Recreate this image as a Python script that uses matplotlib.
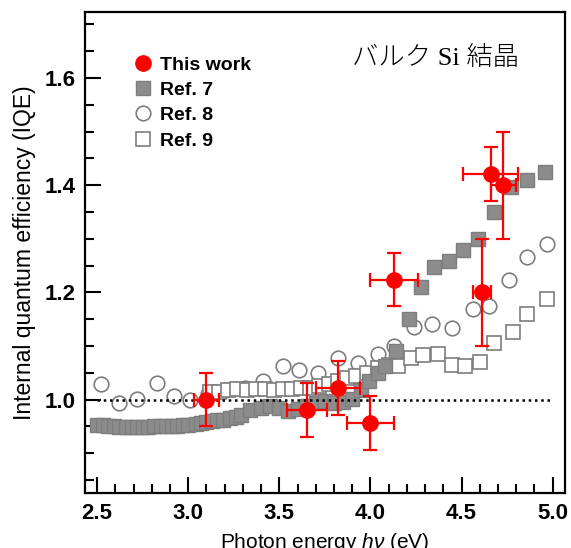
import matplotlib
matplotlib.use("Agg")
import matplotlib.pyplot as plt
import numpy as np
from matplotlib.ticker import MultipleLocator
from matplotlib.lines import Line2D

# ---- data ----
# This work (red, with error bars)
x_tw = [3.10, 3.65, 3.82, 4.00, 4.13, 4.61, 4.66, 4.73]
y_tw = [1.000, 0.981, 1.022, 0.957, 1.224, 1.200, 1.421, 1.400]
xerr_tw = [0.07, 0.11, 0.12, 0.13, 0.13, 0.05, 0.15, 0.07]
yerr_tw = [0.05, 0.05, 0.05, 0.05, 0.05, 0.10, 0.05, 0.10]

# Ref. 7 (filled grey squares)
x_r7 = [2.50, 2.53, 2.56, 2.59, 2.62, 2.66, 2.69, 2.72, 2.75, 2.78, 2.81, 2.85,
        2.88, 2.91, 2.94, 2.97, 3.00, 3.04, 3.07, 3.10, 3.13, 3.16, 3.19, 3.23,
        3.26, 3.29, 3.34, 3.40, 3.45, 3.50, 3.55, 3.60, 3.65, 3.70, 3.75, 3.80,
        3.85, 3.90, 3.95, 3.99, 4.04, 4.08, 4.14, 4.21, 4.28, 4.35, 4.43, 4.51,
        4.59, 4.68, 4.77, 4.86, 4.96]
y_r7 = [0.953, 0.952, 0.950, 0.950, 0.949, 0.949, 0.949, 0.949, 0.949, 0.949,
        0.950, 0.950, 0.950, 0.950, 0.951, 0.952, 0.953, 0.955, 0.957, 0.959,
        0.960, 0.962, 0.963, 0.965, 0.967, 0.972, 0.980, 0.985, 0.988, 0.984,
        0.978, 0.982, 0.988, 0.994, 0.997, 0.993, 0.996, 1.002, 1.018, 1.035,
        1.050, 1.062, 1.090, 1.150, 1.210, 1.247, 1.258, 1.280, 1.300, 1.350,
        1.396, 1.410, 1.424]

# Ref. 8 (open circles)
x_r8 = [2.52, 2.62, 2.72, 2.83, 2.92, 3.01, 3.11, 3.21, 3.31, 3.41, 3.52, 3.61,
        3.71, 3.82, 3.93, 4.04, 4.13, 4.24, 4.34, 4.45, 4.56, 4.65, 4.76, 4.86,
        4.97]
y_r8 = [1.030, 0.994, 1.002, 1.032, 1.006, 1.000, 1.010, 1.019, 1.022, 1.034,
        1.062, 1.056, 1.050, 1.078, 1.069, 1.086, 1.100, 1.136, 1.142, 1.134,
        1.170, 1.174, 1.224, 1.267, 1.290]

# Ref. 9 (open squares)
x_r9 = [3.12, 3.17, 3.22, 3.27, 3.32, 3.37, 3.42, 3.47, 3.52, 3.57, 3.62, 3.67,
        3.72, 3.77, 3.82, 3.87, 3.92, 3.98, 4.04, 4.10, 4.15, 4.22, 4.29, 4.37,
        4.45, 4.52, 4.60, 4.68, 4.78, 4.86, 4.97]
y_r9 = [1.015, 1.015, 1.018, 1.020, 1.018, 1.020, 1.020, 1.018, 1.020, 1.020,
        1.022, 1.022, 1.025, 1.030, 1.035, 1.040, 1.045, 1.050, 1.060, 1.065,
        1.062, 1.077, 1.084, 1.086, 1.065, 1.062, 1.071, 1.106, 1.127, 1.160,
        1.187]

xticks = [2.5, 3.0, 3.5, 4.0, 4.5, 5.0]
yticks = [1.0, 1.2, 1.4, 1.6]

plt.rcParams['font.family'] = ['Liberation Sans', 'DejaVu Sans']
plt.rcParams['mathtext.fontset'] = 'custom'
plt.rcParams['mathtext.it'] = 'Liberation Sans:italic'

fig = plt.figure(figsize=(5.71, 5.48), dpi=100)
ax = fig.add_axes([0.149, 0.1004, 0.84, 0.8776])

grey = '#8c8c8c'
edge = '#7d7d7d'

ax.plot(x_r8, y_r8, 'o', ms=10.5, mfc='white', mec=edge, mew=1.2, zorder=2)
ax.plot(x_r9, y_r9, 's', ms=10, mfc='white', mec=edge, mew=1.2, zorder=3)
ax.plot(x_r7, y_r7, 's', ms=10, mfc=grey, mec=edge, mew=1.0, zorder=4)

ax.hlines(1.0, 2.5, 5.0, colors='black', linestyles=(0, (1, 1.5)), lw=1.8, zorder=5)

ax.errorbar(x_tw, y_tw, xerr=xerr_tw, yerr=yerr_tw, fmt='o', ms=11,
            color='red', mec='red', ecolor='red', elinewidth=1.6, capsize=5,
            capthick=1.6, zorder=6)

ax.set_xlim(2.434, 5.066)
ax.set_ylim(0.826, 1.723)
ax.xaxis.set_minor_locator(MultipleLocator(0.1))
ax.yaxis.set_minor_locator(MultipleLocator(0.05))
ax.set_xticks(xticks)
ax.set_xticklabels(['%.1f' % v for v in xticks])
ax.set_yticks(yticks)
ax.set_yticklabels(['%.1f' % v for v in yticks])

ax.tick_params(which='both', direction='in', top=False, right=False,
               width=1.5, labelsize=16)
ax.tick_params(which='major', length=11.5, pad=7)
ax.tick_params(which='minor', length=6.5)
for lab in ax.get_xticklabels() + ax.get_yticklabels():
    lab.set_fontweight('bold')
for s in ax.spines.values():
    s.set_linewidth(1.6)

ax.set_ylabel('Internal quantum efficiency (IQE)', fontsize=16.5, labelpad=6)
ax.set_xlabel(r'Photon energy $h\nu$ (eV)', fontsize=15, labelpad=5)

handles = [
    Line2D([], [], ls='none', marker='o', ms=11, mfc='red', mec='red'),
    Line2D([], [], ls='none', marker='s', ms=10, mfc=grey, mec=edge, mew=1.0),
    Line2D([], [], ls='none', marker='o', ms=10.5, mfc='white', mec=edge, mew=1.2),
    Line2D([], [], ls='none', marker='s', ms=10, mfc='white', mec=edge, mew=1.2),
]
labels = ['This work', 'Ref. 7', 'Ref. 8', 'Ref. 9']
ax.legend(handles, labels, loc='upper left', bbox_to_anchor=(0.085, 0.925),
          frameon=False, prop={'size': 14, 'weight': 'bold'},
          handletextpad=0.35, labelspacing=0.4, handlelength=1.0,
          borderaxespad=0)

ax.text(0.905, 0.905, 'バルク Si 結晶', transform=ax.transAxes, ha='right',
        va='center', fontsize=19, fontweight='light',
        family=['Liberation Serif', 'Noto Sans CJK JP'])

fig.savefig('out.png', dpi=100)
